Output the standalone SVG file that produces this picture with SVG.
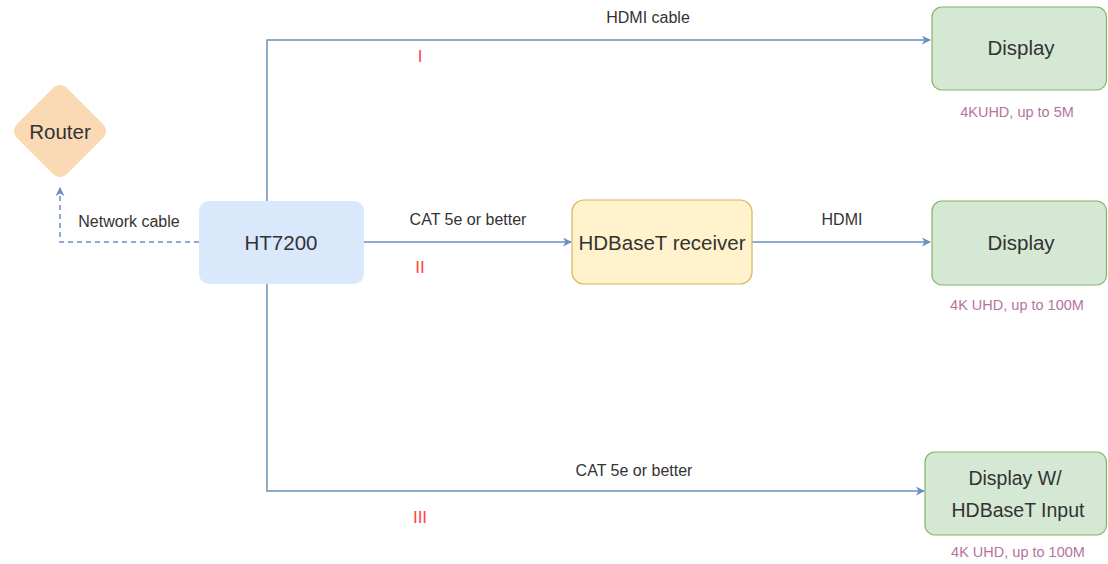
<svg xmlns="http://www.w3.org/2000/svg" width="1108" height="564" viewBox="0 0 1108 564">
<defs>
<style>
text{font-family:"Liberation Sans",Arial,sans-serif;fill:#333;}
.n{font-size:20.5px;text-anchor:middle;}
.m{font-size:19.5px;text-anchor:middle;}
.l{font-size:16px;text-anchor:middle;}
.s{font-size:14.5px;text-anchor:middle;fill:#b5739d;}
.r{font-size:17px;text-anchor:middle;fill:#f44;}
.c{fill:none;stroke:#6c8ebf;stroke-width:1.5;}
.d{stroke-dasharray:5 4;}
.g{fill:#d5e8d4;stroke:#82b366;stroke-width:1.2;}
</style>
<marker id="a" viewBox="0 0 10 10" refX="9" refY="5" markerWidth="9" markerHeight="9" markerUnits="userSpaceOnUse" orient="auto">
<path d="M0,0 L10,5 L0,10 L3,5 Z" fill="#6c8ebf"/>
</marker>
</defs>
<rect width="1108" height="564" fill="#fff"/>
<g id="connectors">
<path class="c d" d="M199,242 H60 V188" marker-end="url(#a)"/>
<path class="c" d="M267,201 V40 H930" marker-end="url(#a)"/>
<path class="c" d="M364,242 H571" marker-end="url(#a)"/>
<path class="c" d="M752,242 H930" marker-end="url(#a)"/>
<path class="c" d="M267,284 V491 H924" marker-end="url(#a)"/>
<text class="l" x="129" y="227">Network cable</text>
<text class="l" x="648" y="23">HDMI cable</text>
<text class="r" x="420" y="62">I</text>
<text class="l" x="468" y="225">CAT 5e or better</text>
<text class="r" x="420" y="273">II</text>
<text class="l" x="842" y="225">HDMI</text>
<text class="l" x="634" y="476">CAT 5e or better</text>
<text class="r" x="420" y="523">III</text>
</g>
<g id="router">
<path d="M52,89 Q60,81 68,89 L102,123 Q110,131 102,139 L68,173 Q60,181 52,173 L18,139 Q10,131 18,123 Z" fill="#fad9b5"/>
<text class="n" x="60" y="139">Router</text>
</g>
<g id="ht7200">
<rect x="199" y="201" width="165" height="83" rx="10" fill="#dae8fc"/>
<text class="n" x="281" y="250">HT7200</text>
</g>
<g id="receiver">
<rect x="572" y="200" width="180" height="84" rx="12" fill="#fff2cc" stroke="#d6b656" stroke-width="1.2"/>
<text class="n" x="662" y="250">HDBaseT receiver</text>
</g>
<g id="display1">
<rect class="g" x="932" y="7" width="174.5" height="83" rx="10"/>
<text class="n" x="1021" y="55">Display</text>
<text class="s" x="1017" y="117">4KUHD, up to 5M</text>
</g>
<g id="display2">
<rect class="g" x="932" y="201" width="174.5" height="84" rx="10"/>
<text class="n" x="1021" y="250">Display</text>
<text class="s" x="1017" y="310">4K UHD, up to 100M</text>
</g>
<g id="display3">
<rect class="g" x="925" y="452" width="181.5" height="83" rx="10"/>
<text class="m" x="1015" y="485">Display W/</text>
<text class="m" x="1018" y="517">HDBaseT Input</text>
<text class="s" x="1018" y="557">4K UHD, up to 100M</text>
</g>
</svg>
